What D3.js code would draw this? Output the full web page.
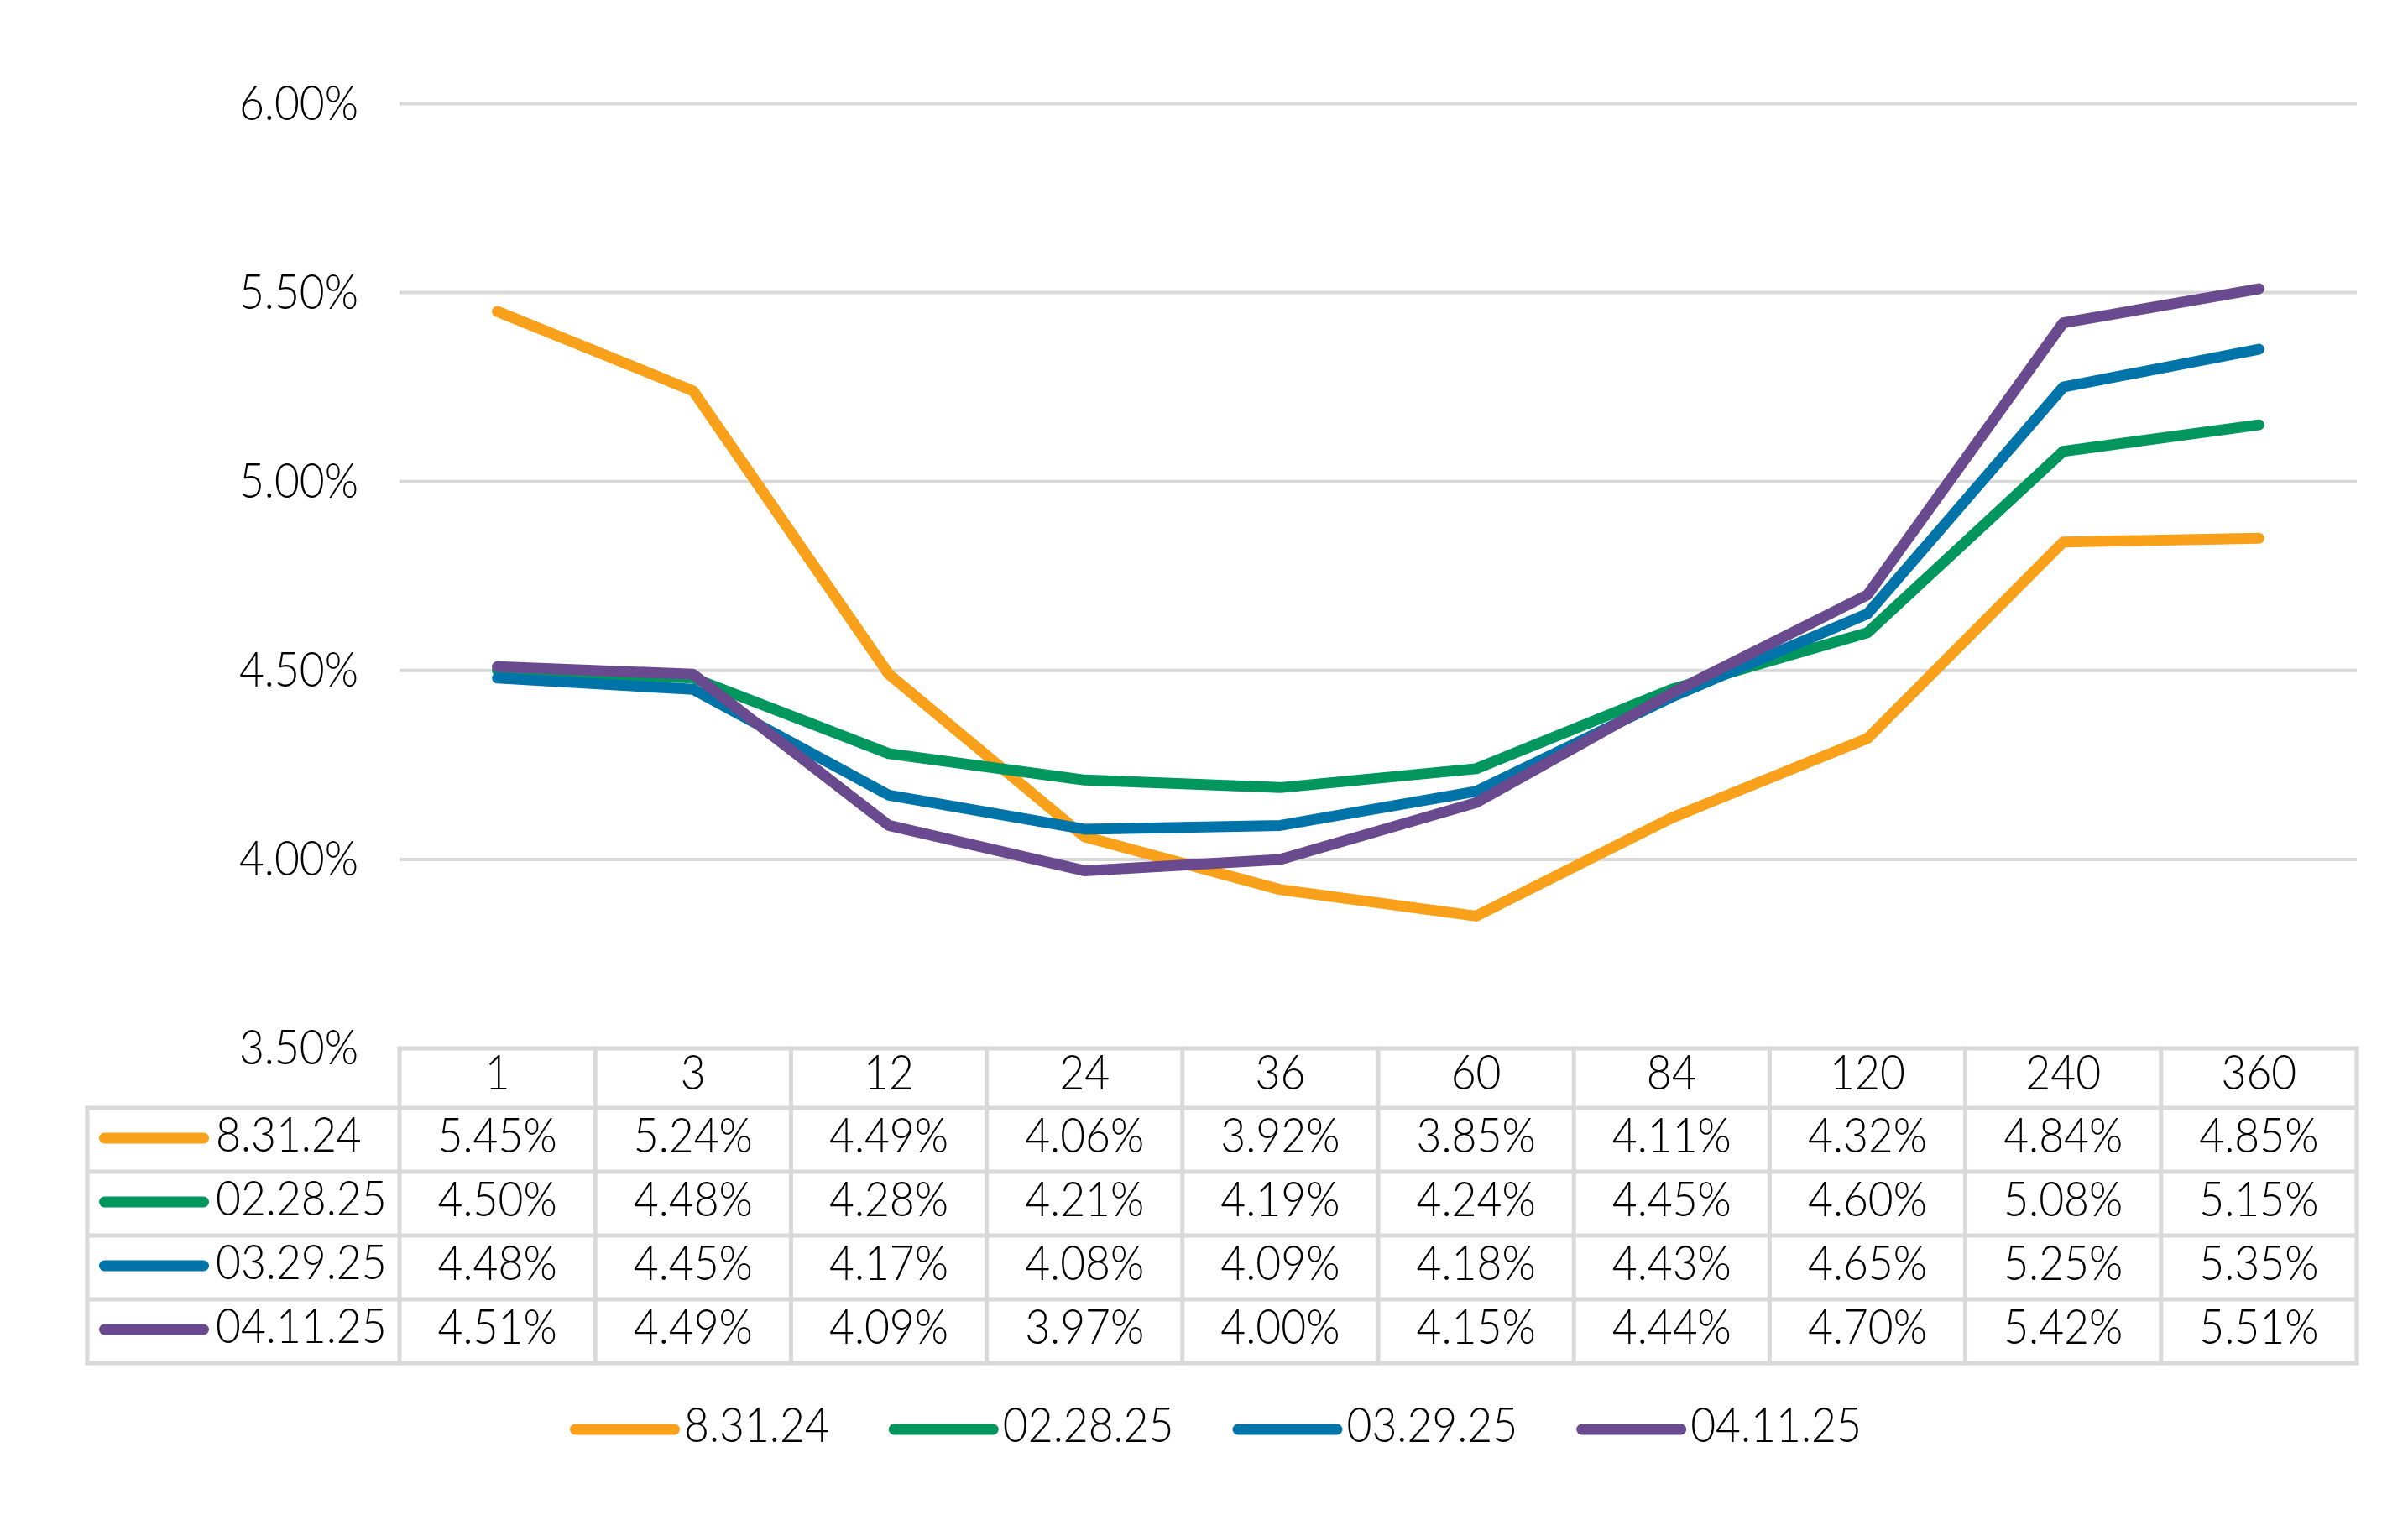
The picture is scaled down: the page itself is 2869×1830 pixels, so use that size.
<!DOCTYPE html>
<html>
<head>
<meta charset="utf-8">
<script src="https://cdn.jsdelivr.net/npm/d3@7"></script>
<style>
  body { margin: 0; background: #fff; }
  text { font-family: Lato, "Open Sans", sans-serif; font-weight: 300; fill: #000; }
</style>
</head>
<body>
<div id="chart"></div>
<script>
// tenors (months) and yields per curve date
let tenors = ["1", "3", "12", "24", "36", "60", "84", "120", "240", "360"];
let seriesNames = ["8.31.24", "02.28.25", "03.29.25", "04.11.25"];
let curve0831 = [5.45, 5.24, 4.49, 4.06, 3.92, 3.85, 4.11, 4.32, 4.84, 4.85];
let curve0228 = [4.50, 4.48, 4.28, 4.21, 4.19, 4.24, 4.45, 4.60, 5.08, 5.15];
let curve0329 = [4.48, 4.45, 4.17, 4.08, 4.09, 4.18, 4.43, 4.65, 5.25, 5.35];
let curve0411 = [4.51, 4.49, 4.09, 3.97, 4.00, 4.15, 4.44, 4.70, 5.42, 5.51];
let yTicks = [3.5, 4.0, 4.5, 5.0, 5.5, 6.0];

let seriesValues = [curve0831, curve0228, curve0329, curve0411];
let colors = ["#F9A11B", "#00965E", "#0073A8", "#694A8F"];

let width = 2869, height = 1830;
let plot = { left: 476, right: 2808, top: 123.5, bottom: 1249 };
let fontSize = 58;
let squeeze = 0.89;
let gridColor = "#D9D9D9";

let svg = d3.select("#chart")
    .append("svg")
        .attr("width", width)
        .attr("height", height);

let x = d3.scaleBand()
    .domain(tenors)
    .range([plot.left, plot.right]);
let cx = t => x(t) + x.bandwidth() / 2;

let y = d3.scaleLinear()
    .domain([3.5, 6.0])
    .range([plot.bottom, plot.top]);

// condensed-looking text: put it in a group and squeeze horizontally
function addText(parent, tx, ty, str, anchor) {
    let g = parent.append("g")
        .attr("transform", "translate(" + tx + "," + ty + ") scale(" + squeeze + ",1)");
    return g.append("text")
        .attr("text-anchor", anchor)
        .style("font-size", fontSize + "px")
        .text(str);
}

// gridlines (3.50% is the table top border)
svg.append("g")
    .selectAll("line")
    .data(yTicks.filter(d => d > 3.5))
    .enter()
    .append("line")
    .attr("x1", plot.left)
    .attr("x2", plot.right)
    .attr("y1", d => y(d))
    .attr("y2", d => y(d))
    .attr("stroke", gridColor)
    .attr("stroke-width", 4);

// y axis labels
let yLab = svg.append("g");
yTicks.forEach(d => {
    addText(yLab, 427, y(d) + 19, d3.format(".2f")(d) + "%", "end");
});

// lines
let line = d3.line()
    .x((d, i) => cx(tenors[i]))
    .y(d => y(d));

svg.append("g")
    .selectAll("path")
    .data(seriesValues)
    .enter()
    .append("path")
    .attr("d", d => line(d))
    .attr("fill", "none")
    .attr("stroke", (d, i) => colors[i])
    .attr("stroke-width", 13)
    .attr("stroke-linecap", "round")
    .attr("stroke-linejoin", "round");

// data table
let tableLeft = 104;
let headerTop = plot.bottom;
let rowTop = 1320;
let rowH = 76;
let table = svg.append("g");
let tableBottom = rowTop + rowH * seriesNames.length;

// horizontal borders
table.append("line")
    .attr("x1", plot.left).attr("x2", plot.right)
    .attr("y1", headerTop).attr("y2", headerTop);
d3.range(seriesNames.length + 1).forEach(k => {
    table.append("line")
        .attr("x1", tableLeft).attr("x2", plot.right)
        .attr("y1", rowTop + k * rowH).attr("y2", rowTop + k * rowH);
});
// vertical borders
tenors.forEach(t => {
    table.append("line")
        .attr("x1", x(t)).attr("x2", x(t))
        .attr("y1", headerTop).attr("y2", tableBottom);
});
table.append("line")
    .attr("x1", plot.right).attr("x2", plot.right)
    .attr("y1", headerTop).attr("y2", tableBottom);
table.append("line")
    .attr("x1", tableLeft).attr("x2", tableLeft)
    .attr("y1", rowTop).attr("y2", tableBottom);
table.selectAll("line")
    .attr("stroke", gridColor)
    .attr("stroke-width", 5)
    .attr("stroke-linecap", "square");

// header
tenors.forEach(t => {
    addText(table, cx(t), 1298, t, "middle");
});

// rows
seriesNames.forEach((name, r) => {
    let top = rowTop + r * rowH;
    table.append("line")
        .attr("x1", 124.5).attr("x2", 242.5)
        .attr("y1", top + rowH / 2 - 2).attr("y2", top + rowH / 2 - 2)
        .attr("stroke", colors[r])
        .attr("stroke-width", 13)
        .attr("stroke-linecap", "round");
    addText(table, 257, top + 52, name, "start");
    seriesValues[r].forEach((v, i) => {
        addText(table, cx(tenors[i]), top + 53, d3.format(".2f")(v) + "%", "middle");
    });
});

// bottom legend
let legend = svg.append("g");
let lx = 679;
let ly = 1703;
seriesNames.forEach((name, r) => {
    legend.append("line")
        .attr("x1", lx + 6.5).attr("x2", lx + 124.5)
        .attr("y1", ly).attr("y2", ly)
        .attr("stroke", colors[r])
        .attr("stroke-width", 13)
        .attr("stroke-linecap", "round");
    let t = addText(legend, lx + 136, ly + 15, name, "start");
    let w = t.node().getComputedTextLength() * squeeze;
    lx += 136 + w + 70;
});
</script>
</body>
</html>
